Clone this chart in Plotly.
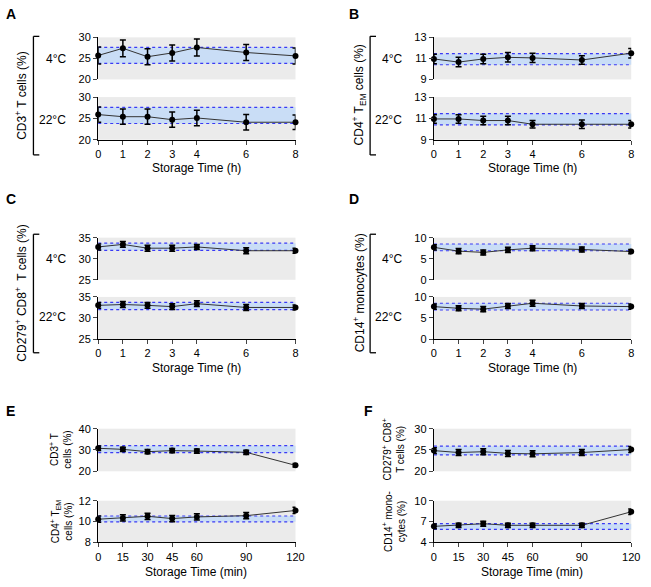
import plotly.graph_objects as go

# x values
hours = [0, 1, 2, 3, 4, 6, 8]
minutes = [0, 15, 30, 45, 60, 90, 120]

# A: CD3+ T cells (%)
a_4c = [25.7, 27.4, 25.4, 26.3, 27.6, 26.4, 25.6]
a_4c_err = [2.0, 2.0, 1.9, 1.9, 2.0, 1.9, 1.9]
a_22c = [25.9, 25.4, 25.4, 24.7, 25.1, 24.1, 24.1]
a_22c_err = [1.8, 1.8, 1.8, 1.8, 1.8, 1.8, 1.7]
a_band = [23.8, 27.6]

# B: CD4+ TEM cells (%)
b_4c = [10.95, 10.65, 10.95, 11.1, 11.05, 10.85, 11.5]
b_4c_err = [0.45, 0.45, 0.45, 0.45, 0.45, 0.4, 0.45]
b_22c = [10.95, 10.95, 10.8, 10.8, 10.45, 10.45, 10.45]
b_22c_err = [0.4, 0.4, 0.4, 0.4, 0.35, 0.4, 0.35]
b_band = [10.4, 11.45]

# C: CD279+ CD8+ T cells (%)
c_4c = [32.8, 33.4, 32.5, 32.5, 32.8, 31.9, 31.9]
c_4c_err = [0.7, 0.7, 0.7, 0.7, 0.6, 0.7, 0.6]
c_22c = [33.0, 33.2, 33.0, 32.7, 33.4, 32.5, 32.5]
c_22c_err = [0.7, 0.7, 0.7, 0.7, 0.7, 0.7, 0.6]
c_band = [32.0, 33.7]

# D: CD14+ monocytes (%)
d_4c = [7.7, 6.8, 6.5, 7.1, 7.5, 7.2, 6.7]
d_4c_err = [0.6, 0.6, 0.6, 0.6, 0.6, 0.6, 0.5]
d_22c = [7.7, 7.3, 7.1, 7.85, 8.5, 7.85, 7.7]
d_22c_err = [0.6, 0.6, 0.6, 0.6, 0.7, 0.6, 0.6]
d_band = [6.9, 8.5]

# E: minutes, CD3+ T and CD4+ TEM
e_cd3 = [30.8, 30.3, 29.2, 29.7, 29.5, 28.9, 22.8]
e_cd3_err = [1.1, 1.0, 1.0, 1.0, 1.0, 1.0, 0.8]
e_cd3_band = [28.8, 32.0]
e_tem = [10.22, 10.34, 10.5, 10.28, 10.44, 10.56, 11.06]
e_tem_err = [0.3, 0.3, 0.3, 0.3, 0.3, 0.3, 0.3]
e_tem_band = [9.97, 10.53]

# F: minutes, CD279+ CD8+ T and CD14+ monocytes
f_cd279 = [24.85, 24.4, 24.6, 24.2, 24.1, 24.4, 25.1]
f_cd279_err = [0.7, 0.7, 0.7, 0.7, 0.7, 0.7, 0.7]
f_cd279_band = [23.85, 25.9]
f_cd14 = [6.3, 6.45, 6.68, 6.45, 6.45, 6.45, 8.4]
f_cd14_err = [0.35, 0.3, 0.35, 0.3, 0.3, 0.3, 0.4]
f_cd14_band = [5.85, 6.68]

W, H = 651, 587
FONT = "Arial, Liberation Sans, sans-serif"
GRAY = "#ebebeb"
BAND = "#c9ddf6"
DOT = "#3a3af5"


def fx(p):
    return p / W


def fy(p):
    return 1 - p / H


L = (97, 298)
R = (439, 640)

# (x, y, err, band, cols, rows(px), range, yticks, xticks, show x axis)
panels = [
    (hours, a_4c, a_4c_err, a_band, L, (32, 75), [20, 30], [20, 25, 30], hours, False),
    (hours, a_22c, a_22c_err, a_band, L, (93, 136.5), [20, 30], [20, 25, 30], hours, True),
    (hours, b_4c, b_4c_err, b_band, R, (32, 75), [9, 13], [9, 11, 13], hours, False),
    (hours, b_22c, b_22c_err, b_band, R, (93, 136.5), [9, 13], [9, 11, 13], hours, True),
    (hours, c_4c, c_4c_err, c_band, L, (236.5, 279.5), [25, 35], [25, 30, 35], hours, False),
    (hours, c_22c, c_22c_err, c_band, L, (297, 340), [25, 35], [25, 30, 35], hours, True),
    (hours, d_4c, d_4c_err, d_band, R, (236.5, 279.5), [0, 10], [0, 5, 10], hours, False),
    (hours, d_22c, d_22c_err, d_band, R, (297, 340), [0, 10], [0, 5, 10], hours, True),
    (minutes, e_cd3, e_cd3_err, e_cd3_band, L, (431.5, 475), [20, 40], [20, 30, 40], minutes, False),
    (minutes, e_tem, e_tem_err, e_tem_band, L, (505, 547.5), [8, 12], [8, 10, 12], minutes, True),
    (minutes, f_cd279, f_cd279_err, f_cd279_band, R, (431.5, 475), [20, 30], [20, 25, 30], minutes, False),
    (minutes, f_cd14, f_cd14_err, f_cd14_band, R, (505, 547.5), [4, 10], [4, 7, 10], minutes, True),
]

fig = go.Figure()
layout = {}
shapes = []

# brackets for A-D (paper coordinates)
for bx, by0, by1 in [(31, 31, 152), (374, 31, 152), (31, 233, 354), (374, 233, 354)]:
    for x0, y0, x1, y1 in [(bx, by0, bx + 6, by0), (bx, by0, bx, by1), (bx, by1, bx + 6, by1)]:
        shapes.append(dict(type="line", xref="paper", yref="paper",
                           x0=fx(x0), y0=fy(y0), x1=fx(x1), y1=fy(y1),
                           line=dict(color="black", width=1.3)))

for i, (xs, ys, er, band, cols, rows, rng, yt, xt, showx) in enumerate(panels, start=1):
    sfx = "" if i == 1 else str(i)
    fig.add_trace(go.Scatter(
        x=xs, y=ys, xaxis="x" + sfx, yaxis="y" + sfx,
        mode="lines+markers", cliponaxis=False, showlegend=False,
        line=dict(color="#333333", width=1),
        marker=dict(color="black", size=6),
        error_y=dict(type="data", array=er, color="black", thickness=1.5, width=3),
    ))
    layout["xaxis" + sfx] = dict(
        domain=[fx(cols[0]), fx(cols[1])], anchor="y" + sfx,
        range=[xt[0], xt[-1]], tickvals=xt, showgrid=False, zeroline=False,
        showline=showx, ticks="outside" if showx else "", ticklen=4,
        tickwidth=1.3, linewidth=1.3, linecolor="black",
        showticklabels=showx, tickfont=dict(family=FONT, size=11, color="black"),
    )
    layout["yaxis" + sfx] = dict(
        domain=[fy(rows[1]), fy(rows[0])], anchor="x" + sfx,
        range=rng, tickvals=yt, showgrid=False, zeroline=False,
        showline=True, ticks="outside", ticklen=4, tickwidth=1.3,
        linewidth=1.3, linecolor="black",
        tickfont=dict(family=FONT, size=11, color="black"),
    )
    shapes.append(dict(type="rect", xref="x" + sfx + " domain", yref="y" + sfx,
                       x0=0, x1=1, y0=band[0], y1=band[1], fillcolor=BAND,
                       line=dict(width=0), layer="below"))
    for v in band:
        shapes.append(dict(type="line", xref="x" + sfx + " domain", yref="y" + sfx,
                           x0=0, x1=1, y0=v, y1=v, layer="below",
                           line=dict(color=DOT, width=1.2, dash="dot")))

ann = []


def text(x, y, s, size=11, angle=0, xanchor="center", bold=False):
    ann.append(dict(x=fx(x), y=fy(y), xref="paper", yref="paper",
                    text="<b>" + s + "</b>" if bold else s,
                    showarrow=False, textangle=angle, xanchor=xanchor,
                    yanchor="middle", align="center",
                    font=dict(family=FONT, size=size, color="black")))


# panel letters
text(8, 8, "A", 14, bold=True)
text(358, 8, "B", 14, bold=True)
text(8, 197, "C", 14, bold=True)
text(358, 197, "D", 14, bold=True)
text(8, 413, "E", 14, bold=True)
text(372, 413, "F", 14, bold=True)

# temperature labels
for xr, yt, yb in [(66, 54, 116), (409, 54, 116), (66, 258, 318), (409, 258, 318)]:
    text(xr, yt, "4°C", 12, xanchor="right")
    text(xr, yb, "22°C", 12, xanchor="right")

# bracket y labels
text(18, 91, "CD3<sup>+</sup> T cells (%)", 12, -90)
text(363, 91, "CD4<sup>+</sup> T<sub>EM</sub> cells (%)", 12, -90)
text(18, 293, "CD279<sup>+</sup> CD8<sup>+</sup>  T cells (%)", 12, -90)
text(363, 293, "CD14<sup>+</sup> monocytes (%)", 12, -90)

# small y labels for E and F
text(59, 453, "CD3<sup>+</sup> T<br>cells (%)", 10, -90)
text(59, 526, "CD4<sup>+</sup> T<sub>EM</sub><br>cells (%)", 10, -90)
text(398, 453, "CD279<sup>+</sup> CD8<sup>+</sup><br>T cells (%)", 10, -90)
text(398, 526, "CD14<sup>+</sup> mono-<br>cytes (%)", 10, -90)

# x axis titles
text(197, 165, "Storage Time (h)", 12)
text(539, 165, "Storage Time (h)", 12)
text(197, 370, "Storage Time (h)", 12)
text(539, 370, "Storage Time (h)", 12)
text(197, 578, "Storage Time (min)", 12)
text(539, 578, "Storage Time (min)", 12)

fig.update_layout(
    width=W, height=H, margin=dict(l=0, r=0, t=0, b=0),
    paper_bgcolor="white", plot_bgcolor=GRAY,
    font=dict(family=FONT, color="black"),
    shapes=shapes, annotations=ann, **layout,
)
fig.write_html("out.html", config={"displayModeBar": False},
               post_script="document.body.style.margin='0';")
